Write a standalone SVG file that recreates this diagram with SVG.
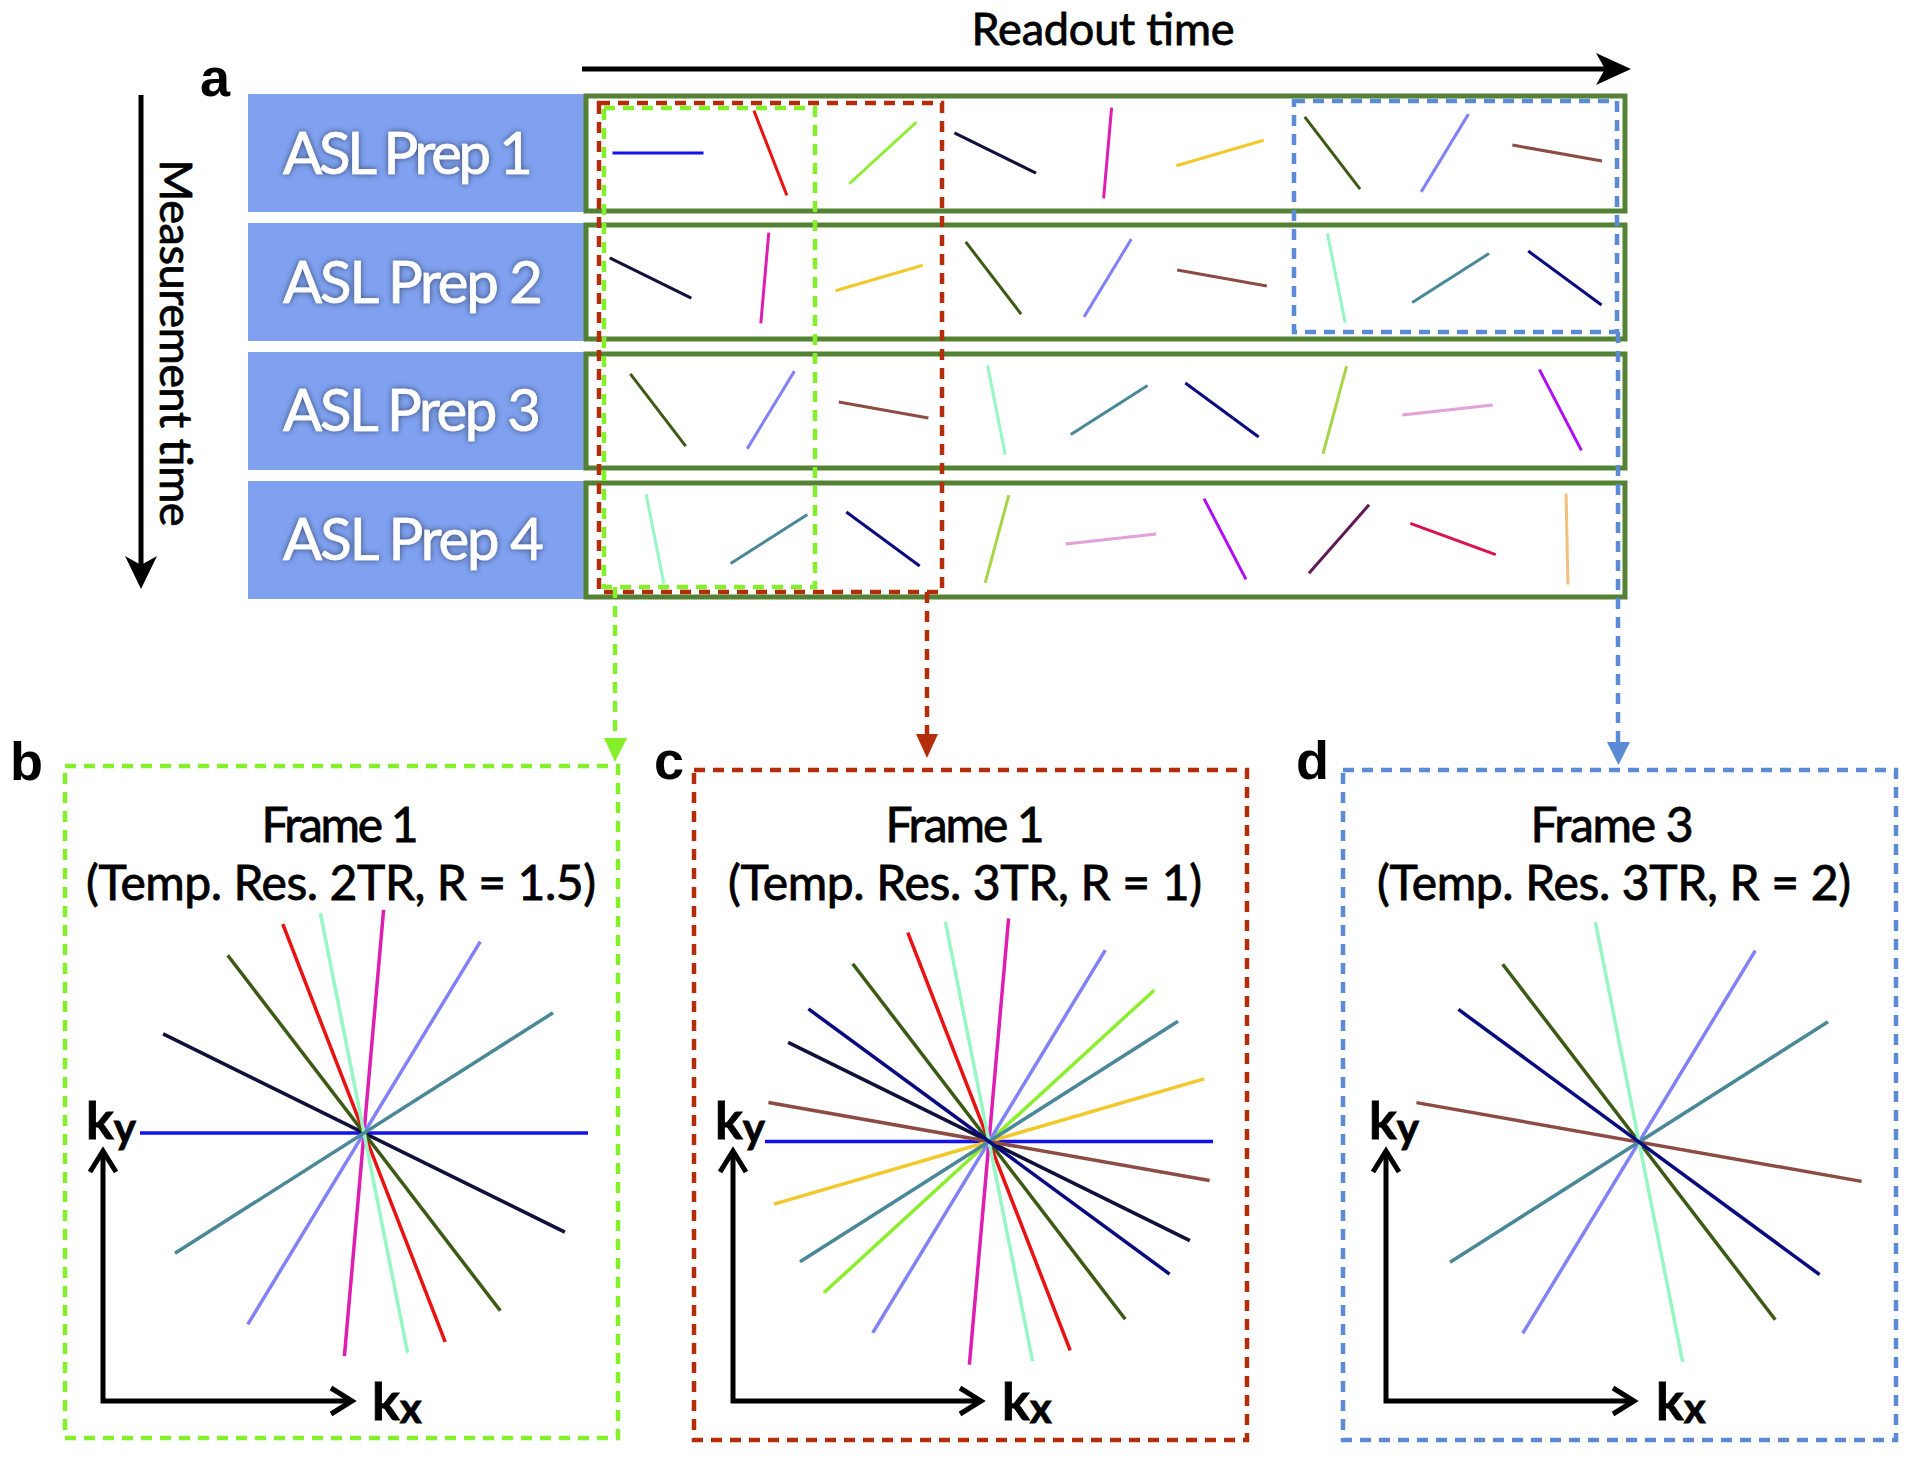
<svg xmlns="http://www.w3.org/2000/svg" width="1908" height="1458" viewBox="0 0 1908 1458">
<style>
.t{font-family:Lato,"Open Sans","Liberation Sans",sans-serif;fill:#000;stroke:#000;stroke-width:0.8}
.lbl{font-family:"Liberation Sans",Arial,sans-serif;font-weight:bold;font-size:54px;fill:#000}
.asl{font-family:Lato,"Open Sans","Liberation Sans",sans-serif;font-size:58px;fill:#fff;stroke:#fff;stroke-width:0.7}
.prep{fill:#7fa1f0}
.row{fill:none;stroke:#548235;stroke-width:5}
.ml{stroke-width:3;fill:none}
.pl{stroke-width:3.5;fill:none}
.ax{stroke:#000;stroke-width:5;fill:none}
.dl{fill:none;stroke:#84f02c;stroke-width:4.5;stroke-dasharray:11 8}
.dr{fill:none;stroke:#b22d0a;stroke-width:4.5;stroke-dasharray:11 8}
.db{fill:none;stroke:#5b8bd4;stroke-width:4.5;stroke-dasharray:11 8}
.c0{stroke:#1212ee}.c1{stroke:#e81212}.c2{stroke:#8cee30}.c3{stroke:#10103a}
.c4{stroke:#de1eb0}.c5{stroke:#f2c82a}.c6{stroke:#3c5a14}.c7{stroke:#8282f8}
.c8{stroke:#8c4c44}.c9{stroke:#96f6c4}.c10{stroke:#4a8898}.c11{stroke:#0a0a80}
.c12{stroke:#a8d448}.c13{stroke:#e4a0da}.c14{stroke:#b00ef0}.c15{stroke:#5e1a56}
.c16{stroke:#d8124e}.c17{stroke:#f2c07e}
</style>
<defs>
<filter id="glow" x="-10%" y="-40%" width="120%" height="180%">
<feGaussianBlur in="SourceAlpha" stdDeviation="3"/>
<feComponentTransfer><feFuncA type="linear" slope="0.55"/></feComponentTransfer>
<feMerge><feMergeNode/><feMergeNode in="SourceGraphic"/></feMerge>
</filter>
</defs>
<rect width="1908" height="1458" fill="#fff"/>

<g id="axes-top">
<text class="t" x="1103" y="45" font-size="45" text-anchor="middle" textLength="263">Readout time</text>
<line class="ax" x1="582" y1="69" x2="1606" y2="69" stroke-width="7"/>
<polygon points="1596,53 1631,69 1596,85 1605,69" fill="#000"/>
<text class="t" font-size="45" text-anchor="middle" textLength="367" transform="translate(160 343) rotate(90)">Measurement time</text>
<line class="ax" x1="141" y1="95" x2="141" y2="566" stroke-width="6"/>
<polygon points="125,556 141,589 157,556 141,565" fill="#000"/>
<text class="lbl" x="200" y="96">a</text>
</g>

<g id="prep1"><rect class="prep" x="248" y="94" width="338" height="118"/><text class="asl" x="283" y="174" textLength="250" filter="url(#glow)">ASL Prep 1</text></g>
<g id="prep2"><rect class="prep" x="248" y="223" width="338" height="118"/><text class="asl" x="283" y="303" textLength="260" filter="url(#glow)">ASL Prep 2</text></g>
<g id="prep3"><rect class="prep" x="248" y="352" width="338" height="118"/><text class="asl" x="283" y="431" textLength="258" filter="url(#glow)">ASL Prep 3</text></g>
<g id="prep4"><rect class="prep" x="248" y="481" width="338" height="118"/><text class="asl" x="283" y="560" textLength="261" filter="url(#glow)">ASL Prep 4</text></g>

<g id="readout1">
<rect class="row" x="586" y="96" width="1039" height="115"/>
<line class="ml c0" x1="-45.5" y1="0" x2="45.5" y2="0" transform="translate(658 153) rotate(0)"/>
<line class="ml c1" x1="-45.5" y1="0" x2="45.5" y2="0" transform="translate(770.4 153) rotate(-111.25)"/>
<line class="ml c2" x1="-45.5" y1="0" x2="45.5" y2="0" transform="translate(882.8 153) rotate(-42.49)"/>
<line class="ml c3" x1="-45.5" y1="0" x2="45.5" y2="0" transform="translate(995.2 153) rotate(-153.74)"/>
<line class="ml c4" x1="-45.5" y1="0" x2="45.5" y2="0" transform="translate(1107.6 153) rotate(-84.98)"/>
<line class="ml c5" x1="-45.5" y1="0" x2="45.5" y2="0" transform="translate(1220 153) rotate(-16.23)"/>
<line class="ml c6" x1="-45.5" y1="0" x2="45.5" y2="0" transform="translate(1332.4 153) rotate(-127.48)"/>
<line class="ml c7" x1="-45.5" y1="0" x2="45.5" y2="0" transform="translate(1444.8 153) rotate(-58.72)"/>
<line class="ml c8" x1="-45.5" y1="0" x2="45.5" y2="0" transform="translate(1557.2 153) rotate(-169.97)"/>
</g>
<g id="readout2">
<rect class="row" x="586" y="225" width="1039" height="114"/>
<line class="ml c3" x1="-45.5" y1="0" x2="45.5" y2="0" transform="translate(650.5 278) rotate(-153.74)"/>
<line class="ml c4" x1="-45.5" y1="0" x2="45.5" y2="0" transform="translate(764.8 278) rotate(-84.98)"/>
<line class="ml c5" x1="-45.5" y1="0" x2="45.5" y2="0" transform="translate(879.1 278) rotate(-16.23)"/>
<line class="ml c6" x1="-45.5" y1="0" x2="45.5" y2="0" transform="translate(993.4 278) rotate(-127.48)"/>
<line class="ml c7" x1="-45.5" y1="0" x2="45.5" y2="0" transform="translate(1107.7 278) rotate(-58.72)"/>
<line class="ml c8" x1="-45.5" y1="0" x2="45.5" y2="0" transform="translate(1222 278) rotate(-169.97)"/>
<line class="ml c9" x1="-45.5" y1="0" x2="45.5" y2="0" transform="translate(1336.3 278) rotate(-101.22)"/>
<line class="ml c10" x1="-45.5" y1="0" x2="45.5" y2="0" transform="translate(1450.6 278) rotate(-32.46)"/>
<line class="ml c11" x1="-45.5" y1="0" x2="45.5" y2="0" transform="translate(1564.9 278) rotate(-143.71)"/>
</g>
<g id="readout3">
<rect class="row" x="586" y="354" width="1039" height="114"/>
<line class="ml c6" x1="-45.5" y1="0" x2="45.5" y2="0" transform="translate(658 410) rotate(-127.48)"/>
<line class="ml c7" x1="-45.5" y1="0" x2="45.5" y2="0" transform="translate(770.8 410) rotate(-58.72)"/>
<line class="ml c8" x1="-45.5" y1="0" x2="45.5" y2="0" transform="translate(883.6 410) rotate(-169.97)"/>
<line class="ml c9" x1="-45.5" y1="0" x2="45.5" y2="0" transform="translate(996.4 410) rotate(-101.22)"/>
<line class="ml c10" x1="-45.5" y1="0" x2="45.5" y2="0" transform="translate(1109.2 410) rotate(-32.46)"/>
<line class="ml c11" x1="-45.5" y1="0" x2="45.5" y2="0" transform="translate(1222 410) rotate(-143.71)"/>
<line class="ml c12" x1="-45.5" y1="0" x2="45.5" y2="0" transform="translate(1334.8 410) rotate(-74.95)"/>
<line class="ml c13" x1="-45.5" y1="0" x2="45.5" y2="0" transform="translate(1447.6 410) rotate(-6.2)"/>
<line class="ml c14" x1="-45.5" y1="0" x2="45.5" y2="0" transform="translate(1560.4 410) rotate(-117.45)"/>
</g>
<g id="readout4">
<rect class="row" x="586" y="483" width="1039" height="114"/>
<line class="ml c9" x1="-45.5" y1="0" x2="45.5" y2="0" transform="translate(655 539) rotate(-101.22)"/>
<line class="ml c10" x1="-45.5" y1="0" x2="45.5" y2="0" transform="translate(769 539) rotate(-32.46)"/>
<line class="ml c11" x1="-45.5" y1="0" x2="45.5" y2="0" transform="translate(883 539) rotate(-143.71)"/>
<line class="ml c12" x1="-45.5" y1="0" x2="45.5" y2="0" transform="translate(997 539) rotate(-74.95)"/>
<line class="ml c13" x1="-45.5" y1="0" x2="45.5" y2="0" transform="translate(1111 539) rotate(-6.2)"/>
<line class="ml c14" x1="-45.5" y1="0" x2="45.5" y2="0" transform="translate(1225 539) rotate(-117.45)"/>
<line class="ml c15" x1="-45.5" y1="0" x2="45.5" y2="0" transform="translate(1339 539) rotate(-48.69)"/>
<line class="ml c16" x1="-45.5" y1="0" x2="45.5" y2="0" transform="translate(1453 539) rotate(-159.94)"/>
<line class="ml c17" x1="-45.5" y1="0" x2="45.5" y2="0" transform="translate(1567 539) rotate(-91.18)"/>
</g>

<g id="window-lime"><rect class="dl" x="604" y="108" width="211" height="479"/></g>
<g id="window-red"><rect class="dr" x="599" y="103" width="343" height="489"/></g>
<g id="window-blue"><rect class="db" x="1294" y="101" width="323" height="231"/></g>

<g id="connectors">
<line class="dl" x1="615" y1="587" x2="615" y2="740"/>
<polygon points="604,738 627,738 615,762" fill="#84f02c"/>
<line class="dr" x1="927" y1="592" x2="927" y2="736"/>
<polygon points="916,734 938,734 927,758" fill="#b22d0a"/>
<line class="db" x1="1618" y1="332" x2="1618" y2="744"/>
<polygon points="1607,742 1630,742 1618.5,765" fill="#5b8bd4"/>
</g>

<g id="panel-b">
<rect class="dl" x="65" y="766" width="553" height="672"/>
<text class="lbl" x="10" y="780">b</text>
<text class="t" x="340" y="842" font-size="48" text-anchor="middle" textLength="157">Frame 1</text>
<text class="t" x="341" y="900" font-size="48" text-anchor="middle" textLength="510">(Temp. Res. 2TR, R = 1.5)</text>
<line class="pl c0" x1="-224" y1="0" x2="224" y2="0" transform="translate(364 1133) rotate(0)"/>
<line class="pl c1" x1="-224" y1="0" x2="224" y2="0" transform="translate(364 1133) rotate(-111.25)"/>
<line class="pl c3" x1="-224" y1="0" x2="224" y2="0" transform="translate(364 1133) rotate(-153.74)"/>
<line class="pl c4" x1="-224" y1="0" x2="224" y2="0" transform="translate(364 1133) rotate(-84.98)"/>
<line class="pl c6" x1="-224" y1="0" x2="224" y2="0" transform="translate(364 1133) rotate(-127.48)"/>
<line class="pl c7" x1="-224" y1="0" x2="224" y2="0" transform="translate(364 1133) rotate(-58.72)"/>
<line class="pl c9" x1="-224" y1="0" x2="224" y2="0" transform="translate(364 1133) rotate(-101.22)"/>
<line class="pl c10" x1="-224" y1="0" x2="224" y2="0" transform="translate(364 1133) rotate(-32.46)"/>
<polyline class="ax" points="103,1152 103,1401 351,1401"/>
<polyline class="ax" points="90,1172 103,1151 116,1172"/>
<polyline class="ax" points="331,1388 352,1401 331,1414"/>
<text class="t" x="86" y="1139" font-size="52" font-weight="bold" stroke-width="0">k<tspan font-size="42" dy="4">y</tspan></text>
<text class="t" x="372" y="1420" font-size="52" font-weight="bold" stroke-width="0">k<tspan font-size="42" dy="3">x</tspan></text>
</g>

<g id="panel-c">
<rect class="dr" x="694" y="770" width="553" height="670"/>
<text class="lbl" x="654" y="779">c</text>
<text class="t" x="965" y="842" font-size="48" text-anchor="middle" textLength="159">Frame 1</text>
<text class="t" x="965" y="900" font-size="48" text-anchor="middle" textLength="474">(Temp. Res. 3TR, R = 1)</text>
<line class="pl c0" x1="-224" y1="0" x2="224" y2="0" transform="translate(989 1141.5) rotate(0)"/>
<line class="pl c1" x1="-224" y1="0" x2="224" y2="0" transform="translate(989 1141.5) rotate(-111.25)"/>
<line class="pl c2" x1="-224" y1="0" x2="224" y2="0" transform="translate(989 1141.5) rotate(-42.49)"/>
<line class="pl c3" x1="-224" y1="0" x2="224" y2="0" transform="translate(989 1141.5) rotate(-153.74)"/>
<line class="pl c4" x1="-224" y1="0" x2="224" y2="0" transform="translate(989 1141.5) rotate(-84.98)"/>
<line class="pl c5" x1="-224" y1="0" x2="224" y2="0" transform="translate(989 1141.5) rotate(-16.23)"/>
<line class="pl c6" x1="-224" y1="0" x2="224" y2="0" transform="translate(989 1141.5) rotate(-127.48)"/>
<line class="pl c7" x1="-224" y1="0" x2="224" y2="0" transform="translate(989 1141.5) rotate(-58.72)"/>
<line class="pl c8" x1="-224" y1="0" x2="224" y2="0" transform="translate(989 1141.5) rotate(-169.97)"/>
<line class="pl c9" x1="-224" y1="0" x2="224" y2="0" transform="translate(989 1141.5) rotate(-101.22)"/>
<line class="pl c10" x1="-224" y1="0" x2="224" y2="0" transform="translate(989 1141.5) rotate(-32.46)"/>
<line class="pl c11" x1="-224" y1="0" x2="224" y2="0" transform="translate(989 1141.5) rotate(-143.71)"/>
<polyline class="ax" points="733,1152 733,1401 980,1401"/>
<polyline class="ax" points="720,1172 733,1151 746,1172"/>
<polyline class="ax" points="960,1388 981,1401 960,1414"/>
<text class="t" x="715" y="1139" font-size="52" font-weight="bold" stroke-width="0">k<tspan font-size="42" dy="4">y</tspan></text>
<text class="t" x="1002" y="1420" font-size="52" font-weight="bold" stroke-width="0">k<tspan font-size="42" dy="3">x</tspan></text>
</g>

<g id="panel-d">
<rect class="db" x="1343" y="770" width="553" height="670"/>
<text class="lbl" x="1296" y="779">d</text>
<text class="t" x="1612" y="842" font-size="48" text-anchor="middle" textLength="163">Frame 3</text>
<text class="t" x="1614" y="900" font-size="48" text-anchor="middle" textLength="474">(Temp. Res. 3TR, R = 2)</text>
<line class="pl c6" x1="-224" y1="0" x2="224" y2="0" transform="translate(1639 1142) rotate(-127.48)"/>
<line class="pl c7" x1="-224" y1="0" x2="224" y2="0" transform="translate(1639 1142) rotate(-58.72)"/>
<line class="pl c8" x1="-226" y1="0" x2="226" y2="0" transform="translate(1639 1142) rotate(-169.97)"/>
<line class="pl c9" x1="-224" y1="0" x2="224" y2="0" transform="translate(1639 1142) rotate(-101.22)"/>
<line class="pl c10" x1="-224" y1="0" x2="224" y2="0" transform="translate(1639 1142) rotate(-32.46)"/>
<line class="pl c11" x1="-224" y1="0" x2="224" y2="0" transform="translate(1639 1142) rotate(-143.71)"/>
<polyline class="ax" points="1386,1152 1386,1401 1633,1401"/>
<polyline class="ax" points="1373,1172 1386,1151 1399,1172"/>
<polyline class="ax" points="1613,1388 1634,1401 1613,1414"/>
<text class="t" x="1369" y="1139" font-size="52" font-weight="bold" stroke-width="0">k<tspan font-size="42" dy="4">y</tspan></text>
<text class="t" x="1656" y="1420" font-size="52" font-weight="bold" stroke-width="0">k<tspan font-size="42" dy="3">x</tspan></text>
</g>
</svg>
